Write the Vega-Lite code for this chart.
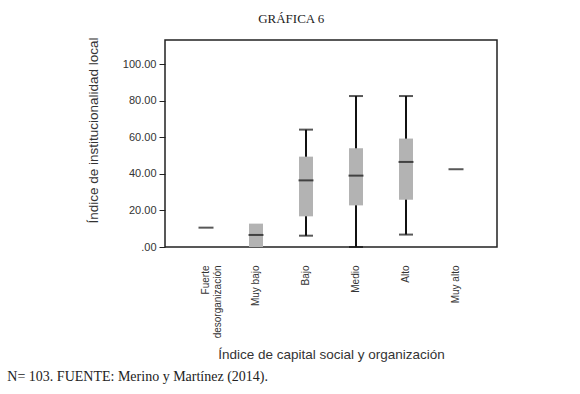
{
  "$schema": "https://vega.github.io/schema/vega-lite/v6.json",
  "background": "white",
  "padding": {"left": 6, "top": 13, "right": 5, "bottom": 5},
  "title": {"text": "GRÁFICA 6", "font": "Liberation Serif", "fontSize": 13, "fontWeight": "normal", "color": "#222", "anchor": "middle", "offset": 10, "dx": 39},
  "config": {
    "view": {"stroke": "#222", "strokeWidth": 1.5},
    "axis": {"labelFont": "Liberation Sans", "titleFont": "Liberation Sans", "labelColor": "#333", "titleColor": "#333", "labelFontSize": 11, "titleFontSize": 13.5, "titleFontWeight": "normal", "grid": false}
  },
  "data": {"values": [
    {"cat": "Fuerte desorganización", "min": null, "q1": null, "median": 10.6, "q3": null, "max": null},
    {"cat": "Muy bajo", "min": null, "q1": 0, "median": 6.6, "q3": 12.8, "max": null},
    {"cat": "Bajo", "min": 6.2, "q1": 16.8, "median": 36.5, "q3": 49.5, "max": 64.3},
    {"cat": "Medio", "min": 0, "q1": 22.8, "median": 39.1, "q3": 54.1, "max": 82.7},
    {"cat": "Alto", "min": 6.8, "q1": 25.9, "median": 46.6, "q3": 59.4, "max": 82.7},
    {"cat": "Muy alto", "min": null, "q1": null, "median": 42.6, "q3": null, "max": null}
  ]},
  "vconcat": [
    {
      "title": {"text": "N= 103. FUENTE: Merino y Martínez (2014).", "orient": "bottom", "anchor": "start", "frame": "bounds", "dx": -79, "font": "Liberation Serif", "fontSize": 14, "fontWeight": "normal", "color": "#222", "offset": 9},
      "width": 332,
      "height": 207,
      "encoding": {
        "x": {"field": "cat", "type": "nominal",
          "sort": ["Fuerte desorganización", "Muy bajo", "Bajo", "Medio", "Alto", "Muy alto"],
          "scale": {"paddingInner": 0, "paddingOuter": 0.32},
          "axis": {"title": "Índice de capital social y organización", "labelAngle": -90, "labelFontSize": 10, "ticks": false, "tickSize": 0, "domain": false, "labelPadding": 18, "titlePadding": 10,
            "labelExpr": "datum.value == 'Fuerte desorganización' ? ['Fuerte', 'desorganización'] : datum.value"}}
      },
      "layer": [
        {
          "transform": [{"filter": "datum.min != null"}],
          "mark": {"type": "rule", "color": "#111", "strokeWidth": 2},
          "encoding": {
            "y": {"field": "min", "type": "quantitative", "scale": {"domain": [0, 113.4], "nice": false},
              "axis": {"title": "Índice de institucionalidad local", "values": [0, 20, 40, 60, 80, 100], "labelExpr": "datum.value == 0 ? '.00' : format(datum.value, '.2f')", "tickSize": 6, "tickColor": "#222", "labelPadding": 3, "domain": false, "titlePadding": 22, "titleY": 90}},
            "y2": {"field": "max"}
          }
        },
        {
          "transform": [{"filter": "datum.q1 != null"}],
          "mark": {"type": "bar", "color": "#b3b3b3", "size": 14},
          "encoding": {
            "y": {"field": "q1", "type": "quantitative"},
            "y2": {"field": "q3"}
          }
        },
        {
          "mark": {"type": "tick", "color": "#111", "size": 15, "thickness": 2},
          "encoding": {"y": {"field": "median", "type": "quantitative"}}
        },
        {
          "transform": [{"filter": "datum.min != null"}],
          "mark": {"type": "tick", "color": "#111", "size": 14, "thickness": 2},
          "encoding": {"y": {"field": "min", "type": "quantitative"}}
        },
        {
          "transform": [{"filter": "datum.max != null"}],
          "mark": {"type": "tick", "color": "#111", "size": 14, "thickness": 2},
          "encoding": {"y": {"field": "max", "type": "quantitative"}}
        }
      ]
    }
  ]
}
